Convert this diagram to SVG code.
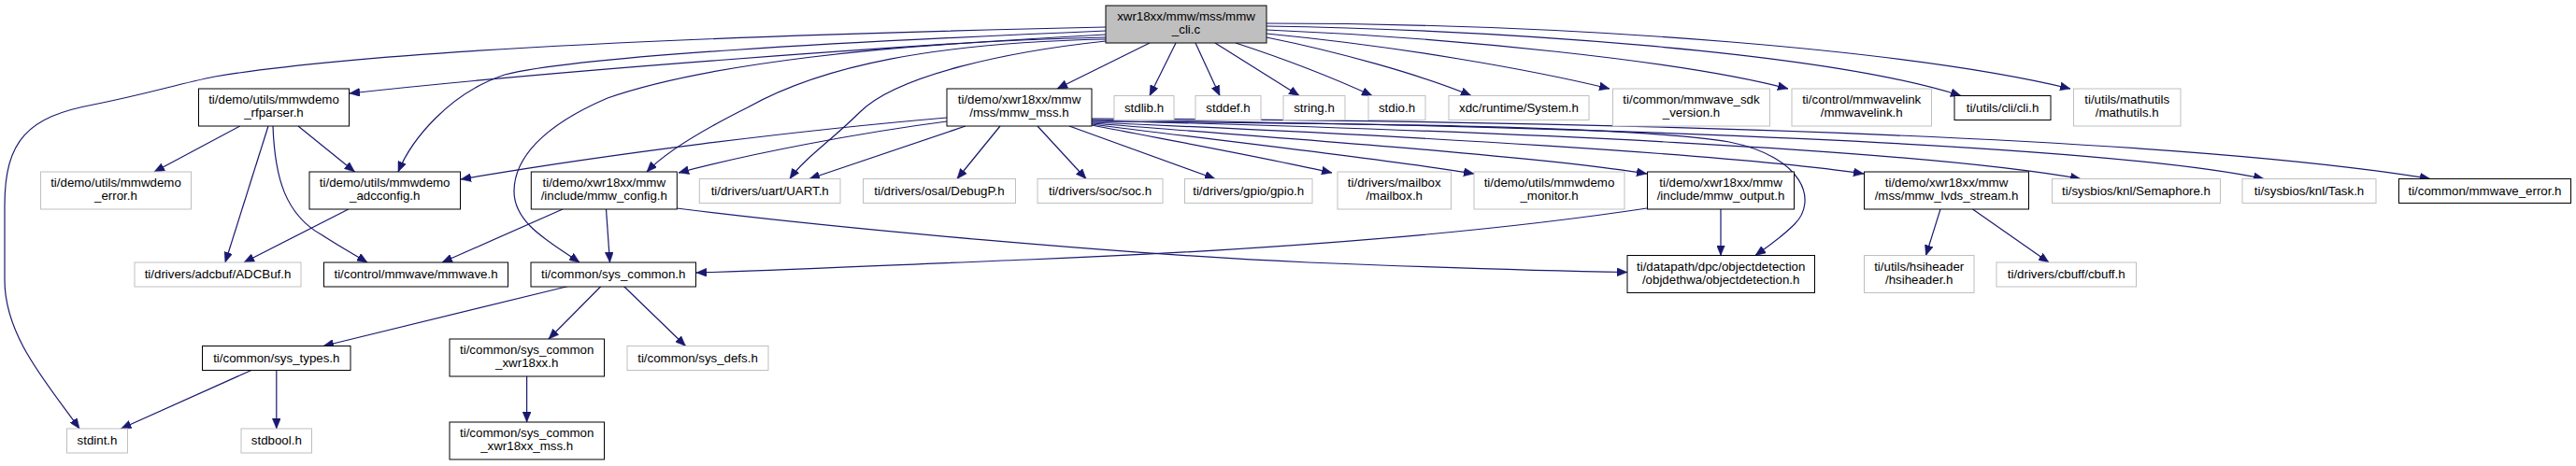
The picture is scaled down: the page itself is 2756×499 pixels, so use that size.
<svg xmlns="http://www.w3.org/2000/svg" width="2756" height="499" viewBox="0 0 2756 499">
<defs>
<style>
.n rect{fill:#ffffff;stroke:#000000;stroke-width:1}
.u rect{fill:#ffffff;stroke:#bfbfbf;stroke-width:1}
.r rect{fill:#bfbfbf;stroke:#000000;stroke-width:1}
text{font-family:"Liberation Sans",Arial,Helvetica,sans-serif;font-size:13.3px;fill:#000000;text-anchor:middle}
.e path{fill:none;stroke:#191970;stroke-width:1.2;marker-end:url(#ah)}
</style>
<marker id="ah" markerUnits="userSpaceOnUse" markerWidth="12" markerHeight="9" refX="11" refY="4.5" orient="auto">
<path d="M0,0 L11,4.5 L0,9 z" fill="#191970" stroke="#191970" stroke-width="0.5"/>
</marker>
</defs>
<rect x="0" y="0" width="2756" height="499" fill="#ffffff"/>
<g id="edges" class="e">
<path d="M1183,29 C1000,33 450,45 230,82 C190,90 160,100 100,112 C30,125 5,150 5,220 L5,300 C5,360 50,410 85,459"/>
<path d="M1183,37 C950,50 600,75 374,100"/>
<path d="M1183,33 C900,45 620,60 540,80 C480,100 440,150 426,184"/>
<path d="M1183,40 C950,45 750,70 650,105 C580,135 550,170 550,205 C550,240 590,260 620,281"/>
<path d="M1183,42 C1000,46 880,70 800,115 C750,140 710,165 692,184"/>
<path d="M1183,44 C1080,55 960,80 920,120 C890,150 860,170 845,191.5"/>
<path d="M1230,46 L1131,95"/>
<path d="M1258,46 L1230,102.5"/>
<path d="M1279,46 L1305,102.5"/>
<path d="M1300,46 L1390,102.5"/>
<path d="M1322,46 C1380,65 1430,85 1468,102.5"/>
<path d="M1355,40 C1430,55 1520,80 1574,102.5"/>
<path d="M1355,36 C1500,50 1640,75 1722,95"/>
<path d="M1355,32 C1550,40 1800,65 1913,95"/>
<path d="M1355,28 C1600,32 1950,55 2098,102.5"/>
<path d="M1355,25 C1700,25 2050,55 2215,95"/>
<path d="M1013,126 C850,140 650,165 493,192"/>
<path d="M1013,130 C920,142 800,165 726,185"/>
<path d="M1033,135 L866,191.5"/>
<path d="M1070,135 L1024,191.5"/>
<path d="M1110,135 L1162,191.5"/>
<path d="M1144,135 L1300,191.5"/>
<path d="M1168,134 C1250,150 1350,168 1425,185"/>
<path d="M1168,133 C1300,150 1480,170 1577,186"/>
<path d="M1168,132 C1400,150 1650,168 1762,186"/>
<path d="M1168,131 C1500,145 1850,165 1994,186"/>
<path d="M1168,130 C1450,132 1750,135 1850,152 C1930,168 1945,215 1920,240 C1905,255 1890,265 1878,273.5"/>
<path d="M1168,129 C1600,140 2050,160 2226,191.5"/>
<path d="M1168,128 C1700,135 2250,155 2422,191.5"/>
<path d="M1168,127 C1800,130 2350,150 2600,191.5"/>
<path d="M602,224 L473,281"/>
<path d="M648.5,224 L652.5,281"/>
<path d="M724,223 C900,245 1200,272 1400,281 C1550,287 1650,290 1741,291.5"/>
<path d="M1762,223 C1550,255 1300,270 1100,278 C950,284 850,289 745,292"/>
<path d="M1841,224 L1841,273.5"/>
<path d="M2076,224 L2060.5,273.5"/>
<path d="M2110.5,224 L2192,281"/>
<path d="M256.7,135 L165,184"/>
<path d="M287,135 L241,281"/>
<path d="M292,135 C294,190 305,230 345,252 C365,265 380,273 393,281"/>
<path d="M319,135 L379.5,184"/>
<path d="M372.8,224 L261,281"/>
<path d="M608,306.5 L346,370.5"/>
<path d="M643,306.5 L587,363"/>
<path d="M667.4,306.5 L733.5,370.5"/>
<path d="M270,396 L129.5,459"/>
<path d="M295.8,396 L295.8,459"/>
<path d="M563.6,403 L563.6,452"/>
</g>
<g id="root" class="r"><rect x="1183" y="6" width="172" height="40"/><text x="1269" y="22">xwr18xx/mmw/mss/mmw</text><text x="1269" y="36">_cli.c</text></g>
<g id="rfparser" class="n"><rect x="212.5" y="95" width="161" height="40"/><text x="293" y="111">ti/demo/utils/mmwdemo</text><text x="293" y="125">_rfparser.h</text></g>
<g id="mmwdemo_error" class="u"><rect x="43.5" y="184" width="161" height="40"/><text x="124" y="200">ti/demo/utils/mmwdemo</text><text x="124" y="214">_error.h</text></g>
<g id="adcconfig" class="n"><rect x="331" y="184" width="161.5" height="40"/><text x="411.7" y="200">ti/demo/utils/mmwdemo</text><text x="411.7" y="214">_adcconfig.h</text></g>
<g id="mmw_config" class="n"><rect x="568.3" y="184" width="156" height="40"/><text x="646.3" y="200">ti/demo/xwr18xx/mmw</text><text x="646.3" y="214">/include/mmw_config.h</text></g>
<g id="adcbuf" class="u"><rect x="144" y="281" width="178" height="26"/><text x="233" y="298">ti/drivers/adcbuf/ADCBuf.h</text></g>
<g id="mmwave" class="n"><rect x="346.5" y="281" width="197" height="26"/><text x="445" y="298">ti/control/mmwave/mmwave.h</text></g>
<g id="sys_common" class="n"><rect x="568" y="281" width="176.5" height="26"/><text x="656.2" y="298">ti/common/sys_common.h</text></g>
<g id="sys_types" class="n"><rect x="216.5" y="370.5" width="158.5" height="26"/><text x="295.8" y="387.5">ti/common/sys_types.h</text></g>
<g id="sys_common_xwr18xx" class="n"><rect x="481" y="363" width="165.5" height="40"/><text x="563.7" y="379">ti/common/sys_common</text><text x="563.7" y="393">_xwr18xx.h</text></g>
<g id="sys_defs" class="u"><rect x="671" y="370.5" width="151" height="26"/><text x="746.5" y="387.5">ti/common/sys_defs.h</text></g>
<g id="stdint" class="u"><rect x="71.5" y="459" width="65" height="26"/><text x="104" y="476">stdint.h</text></g>
<g id="stdbool" class="u"><rect x="258" y="459" width="75.5" height="26"/><text x="295.8" y="476">stdbool.h</text></g>
<g id="sys_common_mss" class="n"><rect x="481" y="452" width="165.5" height="40"/><text x="563.7" y="468">ti/common/sys_common</text><text x="563.7" y="482">_xwr18xx_mss.h</text></g>
<g id="mmw_mss" class="n"><rect x="1013" y="95" width="155" height="40"/><text x="1090.5" y="111">ti/demo/xwr18xx/mmw</text><text x="1090.5" y="125">/mss/mmw_mss.h</text></g>
<g id="stdlib" class="u"><rect x="1192" y="102.5" width="64" height="26"/><text x="1224" y="119.5">stdlib.h</text></g>
<g id="stddef" class="u"><rect x="1279" y="102.5" width="70" height="26"/><text x="1314" y="119.5">stddef.h</text></g>
<g id="string" class="u"><rect x="1373" y="102.5" width="66" height="26"/><text x="1406" y="119.5">string.h</text></g>
<g id="stdio" class="u"><rect x="1464" y="102.5" width="61" height="26"/><text x="1494.5" y="119.5">stdio.h</text></g>
<g id="system" class="u"><rect x="1550" y="102.5" width="150" height="26"/><text x="1625" y="119.5">xdc/runtime/System.h</text></g>
<g id="sdk_version" class="u"><rect x="1725.5" y="95" width="168" height="40"/><text x="1809.5" y="111">ti/common/mmwave_sdk</text><text x="1809.5" y="125">_version.h</text></g>
<g id="mmwavelink" class="u"><rect x="1917" y="95" width="149.5" height="40"/><text x="1991.7" y="111">ti/control/mmwavelink</text><text x="1991.7" y="125">/mmwavelink.h</text></g>
<g id="cli" class="n"><rect x="2091" y="102.5" width="103" height="26"/><text x="2142.5" y="119.5">ti/utils/cli/cli.h</text></g>
<g id="mathutils" class="u"><rect x="2218.5" y="95" width="114.5" height="40"/><text x="2275.7" y="111">ti/utils/mathutils</text><text x="2275.7" y="125">/mathutils.h</text></g>
<g id="uart" class="u"><rect x="748.3" y="191.5" width="150.7" height="26"/><text x="823.7" y="208.5">ti/drivers/uart/UART.h</text></g>
<g id="debugp" class="u"><rect x="923.5" y="191.5" width="163" height="26"/><text x="1005" y="208.5">ti/drivers/osal/DebugP.h</text></g>
<g id="soc" class="u"><rect x="1110" y="191.5" width="134" height="26"/><text x="1177" y="208.5">ti/drivers/soc/soc.h</text></g>
<g id="gpio" class="u"><rect x="1267.5" y="191.5" width="136.5" height="26"/><text x="1335.7" y="208.5">ti/drivers/gpio/gpio.h</text></g>
<g id="mailbox" class="u"><rect x="1431" y="184" width="121.5" height="40"/><text x="1491.7" y="200">ti/drivers/mailbox</text><text x="1491.7" y="214">/mailbox.h</text></g>
<g id="monitor" class="u"><rect x="1577" y="184" width="161" height="40"/><text x="1657.5" y="200">ti/demo/utils/mmwdemo</text><text x="1657.5" y="214">_monitor.h</text></g>
<g id="mmw_output" class="n"><rect x="1762.5" y="184" width="157" height="40"/><text x="1841" y="200">ti/demo/xwr18xx/mmw</text><text x="1841" y="214">/include/mmw_output.h</text></g>
<g id="lvds_stream" class="n"><rect x="1994.5" y="184" width="176" height="40"/><text x="2082.5" y="200">ti/demo/xwr18xx/mmw</text><text x="2082.5" y="214">/mss/mmw_lvds_stream.h</text></g>
<g id="semaphore" class="u"><rect x="2195.5" y="191.5" width="180" height="26"/><text x="2285.5" y="208.5">ti/sysbios/knl/Semaphore.h</text></g>
<g id="task" class="u"><rect x="2399" y="191.5" width="143" height="26"/><text x="2470.5" y="208.5">ti/sysbios/knl/Task.h</text></g>
<g id="mmwave_error" class="n"><rect x="2566.5" y="191.5" width="184" height="26"/><text x="2658.5" y="208.5">ti/common/mmwave_error.h</text></g>
<g id="objectdetection" class="n"><rect x="1741" y="273.5" width="200.5" height="40"/><text x="1841.2" y="289.5">ti/datapath/dpc/objectdetection</text><text x="1841.2" y="303.5">/objdethwa/objectdetection.h</text></g>
<g id="hsiheader" class="u"><rect x="1994.5" y="273.5" width="117.5" height="40"/><text x="2053.2" y="289.5">ti/utils/hsiheader</text><text x="2053.2" y="303.5">/hsiheader.h</text></g>
<g id="cbuff" class="u"><rect x="2136" y="281" width="149.5" height="26"/><text x="2210.7" y="298">ti/drivers/cbuff/cbuff.h</text></g>
</svg>
